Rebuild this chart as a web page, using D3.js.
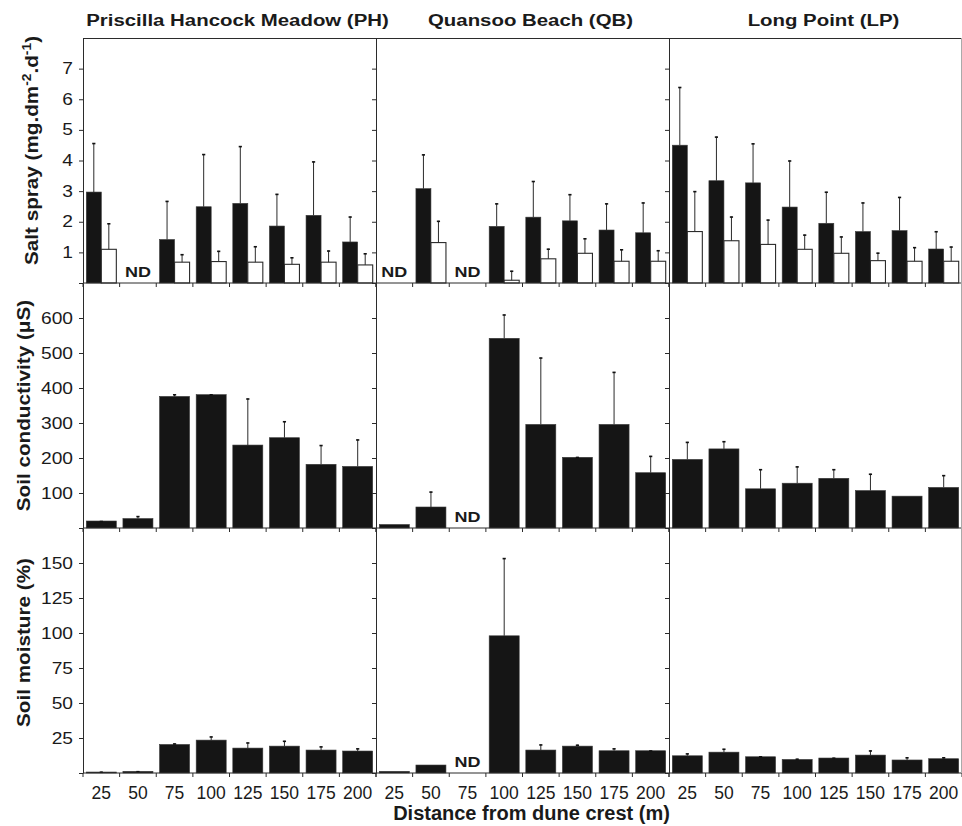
<!DOCTYPE html>
<html>
<head>
<meta charset="utf-8">
<script src="https://cdn.jsdelivr.net/npm/d3@7"></script>
<style>
  body { margin: 0; background: #fff; }
  svg { display: block; font-family: "Liberation Sans", Arial, Helvetica, sans-serif; }
</style>
</head>
<body>
<div id="chart"></div>
<script>
// distances from the dune crest (m), one bar group each
var distances = ["25", "50", "75", "100", "125", "150", "175", "200"];
var siteNames = ["Priscilla Hancock Meadow (PH)", "Quansoo Beach (QB)", "Long Point (LP)"];

// rows: PH, QB, LP.  null = ND (no data)
var sprayA    = [[2.97, null, 1.42, 2.49, 2.60, 1.86, 2.21, 1.34],
                 [null, 3.08, null, 1.85, 2.15, 2.03, 1.73, 1.64],
                 [4.50, 3.34, 3.27, 2.48, 1.95, 1.68, 1.71, 1.11]];
var sprayAErr = [[1.60, null, 1.26, 1.72, 1.87, 1.05, 1.76, 0.83],
                 [null, 1.12, null, 0.75, 1.18, 0.87, 0.87, 0.99],
                 [1.90, 1.44, 1.29, 1.52, 1.03, 0.95, 1.10, 0.58]];
var sprayB    = [[1.10, null, 0.68, 0.70, 0.68, 0.61, 0.68, 0.59],
                 [null, 1.32, null, 0.09, 0.79, 0.97, 0.71, 0.71],
                 [1.68, 1.38, 1.26, 1.10, 0.97, 0.73, 0.71, 0.71]];
var sprayBErr = [[0.85, null, 0.26, 0.35, 0.52, 0.23, 0.38, 0.38],
                 [null, 0.71, null, 0.31, 0.33, 0.49, 0.39, 0.36],
                 [1.32, 0.79, 0.81, 0.48, 0.55, 0.26, 0.46, 0.48]];

var conductivity    = [[20, 27, 376, 381, 237, 258, 182, 176],
                       [10, 60, null, 542, 296, 202, 296, 158],
                       [196, 226, 112, 128, 142, 107, 91, 116]];
var conductivityErr = [[0, 7, 6, 1, 133, 47, 55, 77],
                       [null, 44, null, 68, 191, 1, 150, 48],
                       [50, 22, 56, 48, 26, 48, null, 35]];

var moisture    = [[0.7, 1.2, 20.4, 23.5, 17.8, 19.2, 16.4, 15.7],
                   [1.2, 5.7, null, 98, 16.4, 19.2, 15.9, 15.9],
                   [12.3, 14.9, 11.6, 9.7, 10.7, 12.8, 9.3, 10.2]];
var moistureErr = [[0.2, 0.1, 0.7, 2.6, 4.0, 3.8, 2.6, 1.9],
                   [null, null, null, 55.5, 4.0, 1.0, 1.7, 0.2],
                   [1.7, 2.4, 0.3, 0.5, 0.2, 3.3, 1.9, 1.0]];

var sprayTicks = [1, 2, 3, 4, 5, 6, 7];
var conductivityTicks = [100, 200, 300, 400, 500, 600];
var moistureTicks = [25, 50, 75, 100, 125, 150];

// layout
var W = 962, H = 826;
var plotLeft = 83, plotTop = 38, panelW = 293, rowH = 245;
var sx = 1.2;          // text in the original is drawn wide
var ink = "#2b2b2b";

var rows = [
  { domain: [0, 8], ticks: sprayTicks, labelX: 38, labelDy: -10,
    series: [{ v: sprayA, e: sprayAErr, fill: "#151515" }, { v: sprayB, e: sprayBErr, fill: "#fff" }] },
  { domain: [0, 700], ticks: conductivityTicks, labelX: 30, labelDy: 0,
    series: [{ v: conductivity, e: conductivityErr, fill: "#151515" }] },
  { domain: [0, 175], ticks: moistureTicks, labelX: 30, labelDy: -8,
    series: [{ v: moisture, e: moistureErr, fill: "#151515" }] }
];

var svg = d3.select("#chart").append("svg")
  .attr("width", W)
  .attr("height", H);

var x = d3.scaleBand().domain(distances).range([0, panelW]);
var bw = x.bandwidth();
var inset = 3.3;

rows.forEach(function(row, r) {
  var y = d3.scaleLinear().domain(row.domain).range([rowH, 0]);
  var inner = d3.scaleBand()
    .domain(d3.range(row.series.length))
    .range([inset, bw - inset]);

  siteNames.forEach(function(site, p) {
    var g = svg.append("g")
      .attr("transform", "translate(" + (plotLeft + p * panelW) + "," + (plotTop + r * rowH) + ")");

    // bars + error bars
    row.series.forEach(function(s, k) {
      var vals = s.v[p], errs = s.e[p];
      distances.forEach(function(d, i) {
        if (vals[i] == null) return;
        var bx = x(d) + inner(k);
        g.append("rect")
          .attr("x", bx)
          .attr("y", y(vals[i]))
          .attr("width", inner.bandwidth())
          .attr("height", rowH - y(vals[i]))
          .attr("fill", s.fill)
          .attr("stroke", s.fill === "#fff" ? ink : "#3a3a3a")
          .attr("stroke-width", s.fill === "#fff" ? 1.1 : 0.6);
        if (errs[i] == null) return;
        var cx = bx + inner.bandwidth() / 2;
        var yTop = y(vals[i] + errs[i]);
        g.append("line")
          .attr("x1", cx).attr("x2", cx)
          .attr("y1", y(vals[i])).attr("y2", yTop)
          .attr("stroke", ink).attr("stroke-width", 1);
        g.append("line")
          .attr("x1", cx - 1.6).attr("x2", cx + 1.6)
          .attr("y1", yTop + 0.5).attr("y2", yTop + 0.5)
          .attr("stroke", "#111").attr("stroke-width", 1.6);
      });
    });

    // ND markers
    distances.forEach(function(d, i) {
      if (row.series[0].v[p][i] != null) return;
      g.append("text")
        .attr("transform", "translate(" + (x(d) + bw / 2) + "," + (rowH - 6.5) + ") scale(" + sx + ",1)")
        .attr("text-anchor", "middle")
        .attr("font-size", 15)
        .attr("font-weight", "bold")
        .attr("fill", "#1a1a1a")
        .text("ND");
    });

    // y axis (left side of every panel, labels only on the first)
    var yAxis = g.append("g")
      .call(d3.axisLeft(y)
        .tickValues([0].concat(row.ticks))
        .tickSize(4)
        .tickSizeOuter(0)
        .tickPadding(6)
        .tickFormat(function(v) { return p === 0 && v !== 0 ? v : ""; }));
    yAxis.select(".domain").attr("stroke", ink);
    yAxis.selectAll(".tick line").attr("stroke", ink);
    yAxis.selectAll(".tick text")
      .attr("font-size", 16)
      .attr("font-family", null)
      .attr("fill", "#1a1a1a")
      .attr("x", -10 / sx)
      .attr("transform", "scale(" + sx + ",1)");

    // x axis: baseline and boundary ticks
    g.append("line")
      .attr("x1", 0).attr("x2", panelW)
      .attr("y1", rowH).attr("y2", rowH)
      .attr("stroke", ink);
    g.selectAll(".xtick")
      .data(distances.map(function(d) { return x(d); }).concat([panelW]))
      .enter().append("line")
      .attr("class", "xtick")
      .attr("x1", function(v) { return v; }).attr("x2", function(v) { return v; })
      .attr("y1", rowH).attr("y2", rowH + 4)
      .attr("stroke", ink);

    if (r === rows.length - 1) {
      g.selectAll(".xlab")
        .data(distances)
        .enter().append("text")
        .attr("class", "xlab")
        .attr("x", function(d) { return x(d) + bw / 2; })
        .attr("y", rowH + 25.7)
        .attr("text-anchor", "middle")
        .attr("font-size", 17.5)
        .attr("fill", "#1a1a1a")
        .text(function(d) { return d; });
    }

    if (r === 0) {
      g.append("text")
        .attr("transform", "translate(" + (panelW / 2 + 8) + "," + (26 - plotTop) + ") scale(" + sx + ",1)")
        .attr("text-anchor", "middle")
        .attr("font-size", 17)
        .attr("font-weight", "bold")
        .attr("fill", "#1a1a1a")
        .text(site);
    }
  });

  // row title
  var lab = svg.append("text")
    .attr("transform", "translate(" + row.labelX + "," + (plotTop + r * rowH + rowH / 2 + row.labelDy) + ") rotate(-90) scale(1.15,1)")
    .attr("text-anchor", "middle")
    .attr("font-size", 18)
    .attr("font-weight", "bold")
    .attr("fill", "#1a1a1a");
  if (r === 0) {
    lab.append("tspan").text("Salt spray (mg.dm");
    lab.append("tspan").attr("dy", -7).attr("font-size", 12).text("-2");
    lab.append("tspan").attr("dy", 7).text(".d");
    lab.append("tspan").attr("dy", -7).attr("font-size", 12).text("-1");
    lab.append("tspan").attr("dy", 7).text(")");
  } else if (r === 1) {
    lab.text("Soil conductivity (\u03bcS)");
  } else {
    lab.text("Soil moisture (%)");
  }
});

// frame: top border and right edge
svg.append("line")
  .attr("x1", plotLeft).attr("x2", W)
  .attr("y1", plotTop + 0.5).attr("y2", plotTop + 0.5)
  .attr("stroke", ink);
svg.append("line")
  .attr("x1", W - 0.5).attr("x2", W - 0.5)
  .attr("y1", plotTop).attr("y2", plotTop + 3 * rowH)
  .attr("stroke", "#aaa");

// x axis title
svg.append("text")
  .attr("x", plotLeft + panelW * 1.5 + 9)
  .attr("y", 820)
  .attr("text-anchor", "middle")
  .attr("font-size", 20)
  .attr("font-weight", "bold")
  .attr("fill", "#1a1a1a")
  .text("Distance from dune crest (m)");
</script>
</body>
</html>
